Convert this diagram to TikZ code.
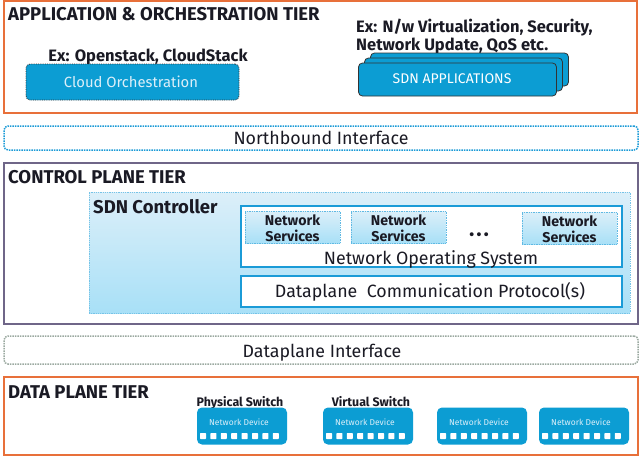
\documentclass[tikz,border=0pt]{standalone}
\usepackage{fontspec}
\setmainfont{Fira Sans}
\setsansfont{Fira Sans}
\definecolor{orng}{HTML}{E8703A}
\definecolor{purp}{HTML}{6F6688}
\definecolor{nblue}{HTML}{1B9BD7}
\definecolor{dblue}{HTML}{0C9DD3}
\definecolor{paleb}{HTML}{DCEFF9}
\definecolor{midb}{HTML}{A8E0F7}
\definecolor{txt}{HTML}{1A1A24}
\definecolor{gdot}{HTML}{9BA9A0}
\begin{document}
\begin{tikzpicture}[x=1pt,y=-1pt,
  box/.style={draw, inner sep=0pt, outer sep=0pt},
  tier/.style={box, line width=1.6pt},
  title/.style={anchor=base west, inner sep=0pt, text=txt, font=\bfseries\fontsize{18.5}{21}\selectfont},
  extext/.style={anchor=base, inner sep=0pt, text=txt, font=\bfseries\fontsize{16.5}{19}\selectfont},
  appbox/.style={box, fill=dblue, draw=black!80, densely dotted, rounded corners=4pt, line width=0.8pt},
  apptxt/.style={anchor=base, inner sep=0pt, text=paleb, font=\fontsize{14.8}{17}\selectfont},
  iface/.style={box, densely dotted, line width=1.5pt, rounded corners=4pt},
  ifacetxt/.style={anchor=base, inner sep=0pt, text=txt, font=\fontsize{17.8}{20}\selectfont},
  whitebox/.style={box, fill=white, draw=nblue, line width=1.6pt},
  nsbox/.style={box, draw=nblue!70, densely dotted, line width=0.7pt, top color=paleb, bottom color=midb},
  nstxt/.style={anchor=base, inner sep=0pt, text=txt, font=\bfseries\fontsize{14.2}{16}\selectfont},
  dev/.style={box, draw=none, fill=dblue, rounded corners=5pt, minimum width=90pt, minimum height=37pt},
  devtxt/.style={anchor=base, inner sep=0pt, text=paleb, font=\fontsize{8.5}{10}\selectfont},
  port/.style={box, draw=none, fill=white, rounded corners=0.6pt, minimum width=6pt, minimum height=6pt},
  swtxt/.style={anchor=base, inner sep=0pt, text=txt, font=\bfseries\fontsize{12.4}{14}\selectfont},
]
\useasboundingbox (0,0) rectangle (642,458);
\fill[white] (0,0) rectangle (642,458);

% Application tier
\node[tier, draw=orng, minimum width=633pt, minimum height=112pt] (apptier) at (320.5,57) {};
\node[title] (apptitle) at (8,20) {APPLICATION \& ORCHESTRATION TIER};
\node[extext] (ex1) at (148,61) {Ex: Openstack, CloudStack};
\node[appbox, minimum width=213pt, minimum height=36pt] (cloud) at (132.5,82) {};
\node[apptxt] (cloudtxt) at (131,87) {Cloud Orchestration};
\node[extext, anchor=base west] (ex2a) at (356,32) {Ex: N/w Virtualization, Security,};
\node[extext, anchor=base west] (ex2b) at (356,50) {Network Update, QoS etc.};
\node[appbox, solid, minimum width=198pt, minimum height=33pt] (app3) at (469.5,69.5) {};
\node[appbox, solid, minimum width=198pt, minimum height=33pt] (app2) at (463.5,74.5) {};
\node[appbox, solid, minimum width=198pt, minimum height=33pt] (app1) at (457.5,79.5) {};
\node[apptxt, text=white, font=\fontsize{14}{16}\selectfont] (apptxt) at (452,83) {SDN APPLICATIONS};

% Northbound
\node[iface, draw=nblue, minimum width=634pt, minimum height=24pt] (north) at (321,138) {};
\node[ifacetxt] (northtxt) at (321,144) {Northbound Interface};

% Control plane tier
\node[tier, draw=purp, minimum width=634pt, minimum height=161pt] (ctrl) at (321,243.5) {};
\node[title] (ctrltitle) at (8,183) {CONTROL PLANE TIER};
\node[box, draw=nblue!60, densely dotted, line width=0.8pt, top color=paleb, bottom color=midb, minimum width=541pt, minimum height=121pt] (sdnc) at (359.5,252.5) {};
\node[title] (sdnctitle) at (93,213) {SDN Controller};
\node[whitebox, minimum width=381pt, minimum height=61pt] (nos) at (431.5,236.5) {};
\foreach \n/\cx/\dy in {1/292.5/0,2/398.5/0,3/569.5/1}{
  \node[nsbox, minimum width=95pt, minimum height=32pt] (ns\n) at (\cx,227+\dy) {};
  \node[nstxt] (ns\n a) at (\cx,225+\dy) {Network};
  \node[nstxt] (ns\n b) at (\cx,241+\dy) {Services};
}
\node[inner sep=0pt, text=txt, font=\bfseries\fontsize{14}{16}\selectfont] (dots) at (479,236) {\textbullet\,\textbullet\,\textbullet};
\node[ifacetxt] (nostxt) at (431,264) {Network Operating System};
\node[whitebox, minimum width=381pt, minimum height=31pt] (dcp) at (431.5,291.5) {};
\node[ifacetxt] (dcptxt) at (430,297) {Dataplane\ \ Communication Protocol(s)};

% Dataplane interface
\node[iface, draw=gdot, minimum width=634pt, minimum height=28pt] (dpi) at (321,350) {};
\node[ifacetxt] (dpitxt) at (322,357) {Dataplane Interface};

% Data plane tier
\node[tier, draw=orng, minimum width=634pt, minimum height=78pt] (dtier) at (321,416) {};
\node[title] (dtiertitle) at (8,398) {DATA PLANE TIER};
\node[swtxt] (phys) at (240,406) {Physical Switch};
\node[swtxt] (virt) at (371,406) {Virtual Switch};
\foreach \i/\cx in {1/242,2/368,3/482,4/584}{
  \node[dev] (dev\i) at (\cx,426) {};
  \node[devtxt] (dev\i t) at (\cx-3,425) {Network Device};
  \foreach \k in {0,...,7}{
    \node[port] (dev\i p\k) at (\cx-39+\k*10.4,436) {};
  }
}
\end{tikzpicture}
\end{document}
